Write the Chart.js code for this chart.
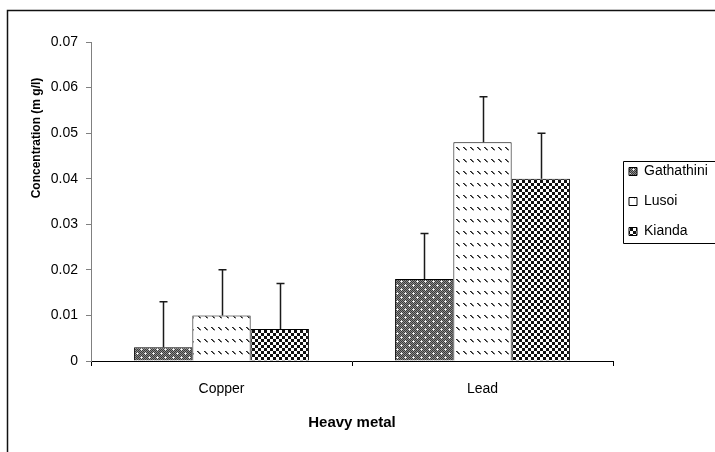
<!DOCTYPE html>
<html>
<head>
<meta charset="utf-8">
<script src="https://cdn.jsdelivr.net/npm/chart.js@4"></script>
<style>
  html, body { margin: 0; padding: 0; background: #fff; }
  #wrap { width: 715px; height: 452px; }
</style>
</head>
<body>
<div id="wrap"><canvas id="chart" width="715" height="452"></canvas></div>
<script>
const metals = ["Copper", "Lead"]
const sites = ["Gathathini", "Lusoi", "Kianda"]
const gathathini = [0.003, 0.018]
const lusoi = [0.010, 0.048]
const kianda = [0.007, 0.040]
const gathathiniErr = [0.010, 0.010]
const lusoiErr = [0.010, 0.010]
const kiandaErr = [0.010, 0.010]
const yTicks = [0, 0.01, 0.02, 0.03, 0.04, 0.05, 0.06, 0.07]

const makeTile = (w, h, paint) => {
  const c = document.createElement("canvas")
  c.width = w
  c.height = h
  const g = c.getContext("2d")
  paint(g)
  return g.createPattern(c, "repeat")
}

// fine dark checker with white dots
const dotsPattern = makeTile(8, 8, (g) => {
  for (let y = 0; y < 8; y++) {
    for (let x = 0; x < 8; x++) {
      g.fillStyle = (x + y) % 2 === 0 ? "#3a3a3a" : "#8a8a8a"
      g.fillRect(x, y, 1, 1)
    }
  }
  g.fillStyle = "#ffffff"
  g.fillRect(1, 1, 1, 1)
  g.fillRect(5, 5, 1, 1)
  g.fillStyle = "#d8d8d8"
  ;[[0, 1], [2, 1], [1, 0], [1, 2], [4, 5], [6, 5], [5, 4], [5, 6]].forEach(([x, y]) => g.fillRect(x, y, 1, 1))
})

// white with short backslash dashes
const dashPattern = makeTile(7, 12, (g) => {
  g.fillStyle = "#ffffff"
  g.fillRect(0, 0, 7, 12)
  g.fillStyle = "#222222"
  g.fillRect(1, 3, 1, 1)
  g.fillRect(2, 4, 1, 1)
  g.fillRect(3, 5, 1, 1)
  g.fillStyle = "#666666"
  g.fillRect(2, 3, 1, 1)
  g.fillRect(3, 4, 1, 1)
  g.fillRect(4, 5, 1, 1)
  g.fillStyle = "#aaaaaa"
  g.fillRect(4, 6, 1, 1)
})

// black and white checkerboard
const checkPattern = makeTile(6, 6, (g) => {
  g.fillStyle = "#ffffff"
  g.fillRect(0, 0, 6, 6)
  g.fillStyle = "#111111"
  g.fillRect(0, 0, 3, 3)
  g.fillRect(3, 3, 3, 3)
})

const errorBars = {
  id: "errorBars",
  afterDatasetsDraw(chart) {
    const { ctx } = chart
    const yScale = chart.scales.y
    ctx.save()
    ctx.strokeStyle = "#1a1a1a"
    ctx.lineWidth = 1.5
    chart.data.datasets.forEach((ds, i) => {
      const meta = chart.getDatasetMeta(i)
      meta.data.forEach((bar, j) => {
        const top = yScale.getPixelForValue(ds.data[j] + ds.errors[j])
        const x = Math.round(bar.x) + 0.5
        ctx.beginPath()
        ctx.moveTo(x, bar.y)
        ctx.lineTo(x, top)
        ctx.moveTo(x - 4, top)
        ctx.lineTo(x + 4, top)
        ctx.stroke()
      })
    })
    ctx.restore()
  },
}

const frame = {
  id: "frame",
  afterDraw(chart) {
    const { ctx } = chart
    ctx.save()
    ctx.strokeStyle = "#111111"
    ctx.lineWidth = 1.5
    ctx.beginPath()
    ctx.moveTo(7.5, 452)
    ctx.lineTo(7.5, 10.5)
    ctx.lineTo(715, 10.5)
    ctx.stroke()

    // legend box
    const boxes = chart.legend.legendHitBoxes
    if (boxes && boxes.length) {
      const left = Math.min(...boxes.map((b) => b.left)) - 6
      const top = Math.min(...boxes.map((b) => b.top)) - 4
      const bottom = Math.max(...boxes.map((b) => b.top + b.height)) + 4
      ctx.lineWidth = 1
      ctx.strokeStyle = "#000000"
      ctx.beginPath()
      ctx.moveTo(720, Math.round(top) + 0.5)
      ctx.lineTo(Math.round(left) + 0.5, Math.round(top) + 0.5)
      ctx.lineTo(Math.round(left) + 0.5, Math.round(bottom) + 0.5)
      ctx.lineTo(720, Math.round(bottom) + 0.5)
      ctx.stroke()
    }

    // y axis title
    const area = chart.chartArea
    ctx.fillStyle = "#000000"
    ctx.font = "bold 12px 'Liberation Sans', Arial, sans-serif"
    ctx.textAlign = "center"
    ctx.textBaseline = "middle"
    ctx.translate(37, area.top + 96)
    ctx.rotate(-Math.PI / 2)
    ctx.fillText("Concentration (m g/l)", 0, 0)
    ctx.restore()
  },
}

const data = {
  labels: metals,
  datasets: [
    { label: sites[0], data: gathathini, errors: gathathiniErr, backgroundColor: dotsPattern },
    { label: sites[1], data: lusoi, errors: lusoiErr, backgroundColor: dashPattern },
    { label: sites[2], data: kianda, errors: kiandaErr, backgroundColor: checkPattern },
  ].map((d) => ({
    ...d,
    borderColor: "#000000",
    borderWidth: 1,
    borderSkipped: "bottom",
    barPercentage: 1,
    categoryPercentage: 0.67,
  })),
}

const font = { family: "'Liberation Sans', Arial, sans-serif" }

new Chart(document.getElementById("chart"), {
  type: "bar",
  data,
  plugins: [errorBars, frame],
  options: {
    responsive: false,
    animation: false,
    layout: { padding: { top: 42, right: 0, bottom: 0, left: 0 } },
    plugins: {
      legend: {
        position: "right",
        fullSize: false,
        maxWidth: 102,
        labels: {
          boxWidth: 8,
          boxHeight: 8,
          padding: 16,
          color: "#000000",
          font: { ...font, size: 14 },
        },
      },
      tooltip: { enabled: false },
    },
    scales: {
      x: {
        afterFit: (s) => { s.height = 91 },
        grid: { drawOnChartArea: false, drawTicks: true, tickLength: 5, color: "#000000", offset: true },
        border: { color: "#000000", width: 1 },
        ticks: { color: "#000000", padding: 15, font: { ...font, size: 14 } },
        title: {
          display: true,
          text: "Heavy metal",
          color: "#000000",
          font: { ...font, size: 15, weight: "bold" },
          padding: { top: 0, bottom: 20 },
        },
      },
      y: {
        min: 0,
        max: 0.07,
        afterFit: (s) => { s.width = 91 },
        afterBuildTicks: (s) => { s.ticks = yTicks.map((v) => ({ value: v })) },
        grid: { drawOnChartArea: false, drawTicks: true, tickLength: 5, color: "#808080" },
        border: { color: "#808080", width: 1 },
        ticks: {
          color: "#000000",
          padding: 8,
          font: { ...font, size: 14 },
          callback: (v) => (v === 0 ? "0" : v.toFixed(2)),
        },
      },
    },
  },
})
</script>
</body>
</html>
